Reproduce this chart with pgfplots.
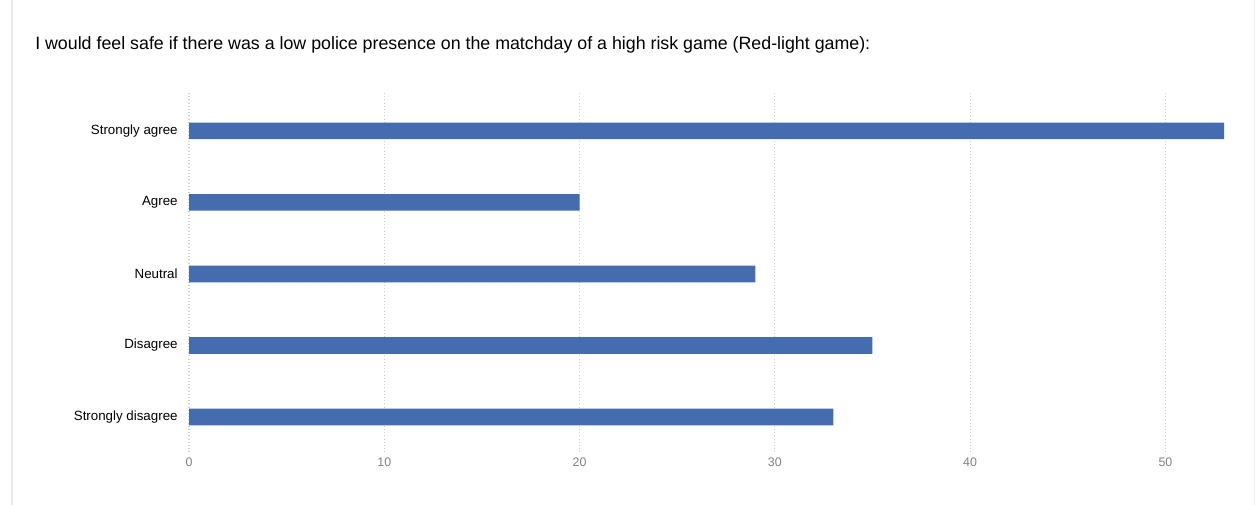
\documentclass[border=0pt]{standalone}
\usepackage{fontspec}
\setmainfont{Liberation Sans}
\usepackage{pgfplots}
\pgfplotsset{compat=1.18}
\definecolor{barblue}{RGB}{70,108,176}
\definecolor{gridgray}{RGB}{205,205,205}
\definecolor{ticklab}{RGB}{130,130,130}
\begin{document}
\begin{tikzpicture}
\path[use as bounding box] (0,0) rectangle (942pt,378.75pt);
\draw[color={rgb,255:red,232;green,232;blue,232}, line width=1.2pt] (9pt,0) -- (9pt,378.75pt);
\draw[color={rgb,255:red,240;green,240;blue,240}, line width=1pt] (941pt,0) -- (941pt,378.75pt);
\node[anchor=base west, inner sep=0pt, font=\fontsize{13.35pt}{15pt}\selectfont] at (26.25pt,341.25pt)
  {I would feel safe if there was a low police presence on the matchday of a high risk game (Red-light game):};
\begin{axis}[
  at={(141.75pt,39.75pt)}, anchor=south west,
  width=776.25pt, height=269.25pt, scale only axis,
  xbar, bar width=12.5pt,
  xmin=0, xmax=53, ymin=-0.49, ymax=4.53,
  xtick={0,10,20,30,40,50},
  ytick={0,1,2,3,4},
  yticklabels={Strongly disagree, Disagree, Neutral, Agree, Strongly agree},
  axis line style={draw=none},
  major tick length=0pt,
  xmajorgrids, ymajorgrids=false,
  grid style={gridgray, dotted, line width=0.9pt},
  /pgf/number format/assume math mode=true,
  xticklabel style={font=\fontsize{9.3pt}{11pt}\selectfont, text=ticklab, yshift=-1pt},
  yticklabel style={font=\fontsize{10pt}{12pt}\selectfont, xshift=-5pt},
]
\addplot[fill=barblue, draw=none] coordinates {(33,0) (35,1) (29,2) (20,3) (53,4)};
\end{axis}
\end{tikzpicture}
\end{document}
